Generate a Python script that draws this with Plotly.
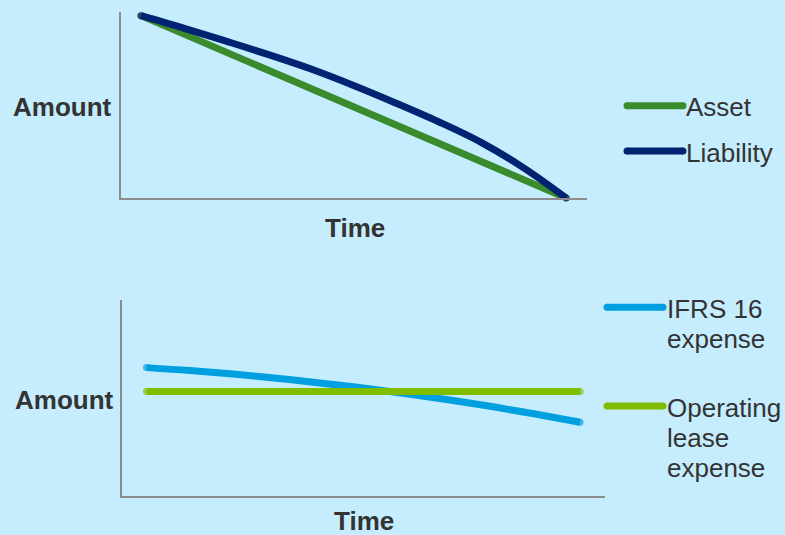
import plotly.graph_objects as go

# ---- data -------------------------------------------------------------
time_steps = [0, 1, 2, 3, 4, 5, 6, 7, 8, 9, 10]

asset = [100, 90, 80, 70, 60, 50, 40, 30, 20, 10, 0]
liability = [100, 93.2, 86.0, 78.6, 70.7, 61.7, 52.0, 41.8, 30.5, 16.5, 0]

ifrs16_expense = [65.5, 64.0, 62.2, 60.1, 57.7, 55.1, 52.2, 49.0, 45.5, 41.7, 37.6]
operating_expense = [53.3, 53.3, 53.3, 53.3, 53.3, 53.3, 53.3, 53.3, 53.3, 53.3, 53.3]

# ---- styling ----------------------------------------------------------
W, H = 785, 535
BG = "#C5EDFD"
AXIS = "#8C8C8C"
TEXT = "#333333"
FONT = "Liberation Sans, Arial, sans-serif"
LW = 7

C_ASSET = "#3A8A2E"
C_LIAB = "#002471"
C_IFRS = "#009FDF"
C_OPER = "#80BD00"


def px(x):
    return x / W


def py(y):
    return 1 - y / H


def capped(values):
    # markers only on the end points give the lines rounded caps
    n = len(values)
    return [LW if i in (0, n - 1) else 0 for i in range(n)]


def series(y, color, xa, ya, spline=False):
    line = dict(color=color, width=LW)
    if spline:
        line.update(shape="spline", smoothing=1)
    return go.Scatter(x=time_steps, y=y, mode="lines+markers", line=line,
                      marker=dict(size=capped(y), color=color, line=dict(width=0)),
                      cliponaxis=False, xaxis=xa, yaxis=ya, showlegend=False,
                      hoverinfo="skip")


fig = go.Figure()
fig.add_trace(series(asset, C_ASSET, "x", "y"))
fig.add_trace(series(liability, C_LIAB, "x", "y", spline=True))
fig.add_trace(series(ifrs16_expense, C_IFRS, "x2", "y2", spline=True))
fig.add_trace(series(operating_expense, C_OPER, "x2", "y2"))

axis_common = dict(showline=True, linecolor=AXIS, linewidth=2, showgrid=False,
                   zeroline=False, showticklabels=False, ticks="", fixedrange=True)

fig.update_layout(
    width=W, height=H,
    margin=dict(l=0, r=0, t=0, b=0),
    paper_bgcolor=BG, plot_bgcolor=BG,
    font=dict(family=FONT, color=TEXT),
    xaxis=dict(domain=[px(121), px(587)], range=[-0.47, 10.49], anchor="y", **axis_common),
    yaxis=dict(domain=[py(198), py(12)], range=[0, 102], anchor="x", **axis_common),
    xaxis2=dict(domain=[px(122), px(605)], range=[-0.565, 10.577], anchor="y2", **axis_common),
    yaxis2=dict(domain=[py(496), py(300)], range=[0, 100], anchor="x2", **axis_common),
)

annotations = []


def label(text, x, y, size, bold=False, anchor="center"):
    annotations.append(dict(
        text=f"<b>{text}</b>" if bold else text,
        x=px(x), y=py(y), xref="paper", yref="paper",
        xanchor=anchor, yanchor="middle", showarrow=False,
        font=dict(family=FONT, size=size, color=TEXT)))


# axis titles
label("Amount", 62.5, 107, 26, bold=True)
label("Time", 355, 228, 26, bold=True)
label("Amount", 64, 400, 26, bold=True)
label("Time", 364, 521, 26, bold=True)

# legend text
label("Asset", 684, 107, 26, anchor="left")
label("Liability", 684, 153, 26, anchor="left")
label("IFRS 16", 665, 309, 26, anchor="left")
label("expense", 665, 339, 26, anchor="left")
label("Operating", 665, 408, 26, anchor="left")
label("lease", 665, 438, 26, anchor="left")
label("expense", 665, 468, 26, anchor="left")

fig.update_layout(annotations=annotations)

# legend swatches with rounded ends
shapes = []
for (x0, x1, y, color) in [(627, 683, 105.7, C_ASSET), (627, 683, 151, C_LIAB),
                           (607, 663, 307.3, C_IFRS), (607, 663, 406, C_OPER)]:
    shapes.append(dict(type="line", xref="paper", yref="paper",
                       x0=px(x0), x1=px(x1), y0=py(y), y1=py(y),
                       line=dict(color=color, width=LW)))
    for xc in (x0, x1):
        r = LW / 2
        shapes.append(dict(type="circle", xref="paper", yref="paper",
                           x0=px(xc - r), x1=px(xc + r), y0=py(y + r), y1=py(y - r),
                           fillcolor=color, line=dict(width=0)))
fig.update_layout(shapes=shapes)

fig.write_html("out.html")
